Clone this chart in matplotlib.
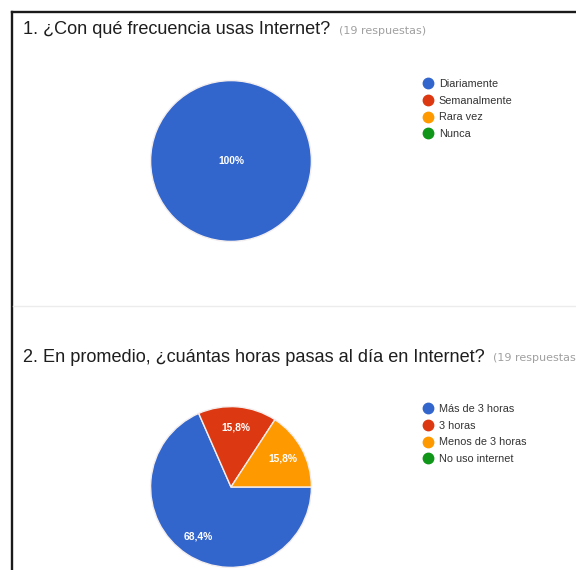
import matplotlib
matplotlib.use("Agg")
import matplotlib.pyplot as plt
from matplotlib.lines import Line2D

plt.rcParams['font.family'] = ['Liberation Sans', 'DejaVu Sans']

# Survey data (19 responses each)
q1_title = "1. ¿Con qué frecuencia usas Internet?"
q1_categories = ["Diariamente", "Semanalmente", "Rara vez", "Nunca"]
q1_counts = [19, 0, 0, 0]

q2_title = "2. En promedio, ¿cuántas horas pasas al día en Internet?"
q2_categories = ["Más de 3 horas", "3 horas", "Menos de 3 horas", "No uso internet"]
q2_counts = [13, 3, 3, 0]

responses_note = "(19 respuestas)"
slice_colors = ["#3366cc", "#dc3912", "#ff9900", "#109618"]

W, H = 576, 570
fig = plt.figure(figsize=(W / 100, H / 100), dpi=100)
fig.patch.set_facecolor("white")


def px_box(cx, cy, r):
    """Axes rectangle (figure fraction) for a pie centred at pixel (cx, cy)."""
    return [(cx - r) / W, 1 - (cy + r) / H, 2 * r / W, 2 * r / H]


def pct_label(p):
    if abs(p - 100) < 1e-6:
        return "100%"
    if p < 0.5:
        return ""
    return f"{p:.1f}".replace(".", ",") + "%"


def draw_pie(ax, counts):
    nonzero = [(v, c) for v, c in zip(counts, slice_colors) if v > 0]
    wedges, texts, autotexts = ax.pie(
        [v for v, _ in nonzero],
        colors=[c for _, c in nonzero],
        startangle=0 if len(nonzero) > 1 else 90,
        counterclock=False,
        autopct=pct_label,
        pctdistance=0.74,
        radius=1.0,
        wedgeprops=dict(edgecolor="#f4eeee", linewidth=1.0),
        textprops=dict(color="white", fontsize=7.4, fontweight="bold"),
    )
    if len(nonzero) == 1:
        autotexts[0].set_position((0, 0))
    ax.set_xlim(-1.02, 1.02)
    ax.set_ylim(-1.02, 1.02)
    ax.set_aspect("equal")
    ax.axis("off")


def draw_legend(categories, x, y):
    handles = [Line2D([], [], marker="o", linestyle="none", markersize=7.5,
                      markerfacecolor=c, markeredgecolor=c)
               for c in slice_colors]
    fig.legend(handles, categories, loc="upper left",
               bbox_to_anchor=(x / W, 1 - y / H), bbox_transform=fig.transFigure,
               frameon=False, fontsize=7.8, labelcolor="#333333",
               handlelength=0.9, handletextpad=0.55, labelspacing=0.62,
               borderpad=0, borderaxespad=0)


# Question 1
ax1 = fig.add_axes(px_box(231, 161, 82))
draw_pie(ax1, q1_counts)
fig.text(23 / W, 1 - 30 / H, q1_title, fontsize=13.1, color="#1e1e1e", va="center")
fig.text(339 / W, 1 - 31 / H, responses_note, fontsize=8.0, color="#a0a0a0", va="center",
         family="DejaVu Sans")
draw_legend(q1_categories, 423, 79)

# Question 2
ax2 = fig.add_axes(px_box(231, 487, 82))
draw_pie(ax2, q2_counts)
fig.text(23 / W, 1 - 357 / H, q2_title, fontsize=13.1, color="#1e1e1e", va="center")
fig.text(493 / W, 1 - 358 / H, responses_note.rstrip(")"), fontsize=8.0, color="#a0a0a0",
         va="center", family="DejaVu Sans")
draw_legend(q2_categories, 423, 404)

# Frame and separator
fig.add_artist(Line2D([12 / W, 1.0], [1 - 12 / H, 1 - 12 / H], color="#1a1a1a", linewidth=1.7,
                      transform=fig.transFigure))
fig.add_artist(Line2D([12 / W, 12 / W], [1 - 12 / H, 0.0], color="#1a1a1a", linewidth=1.7,
                      transform=fig.transFigure))
fig.add_artist(Line2D([13 / W, 1.0], [1 - 306 / H, 1 - 306 / H], color="#ececec", linewidth=1.0,
                      transform=fig.transFigure))

fig.savefig("out.png", dpi=100, facecolor="white")
